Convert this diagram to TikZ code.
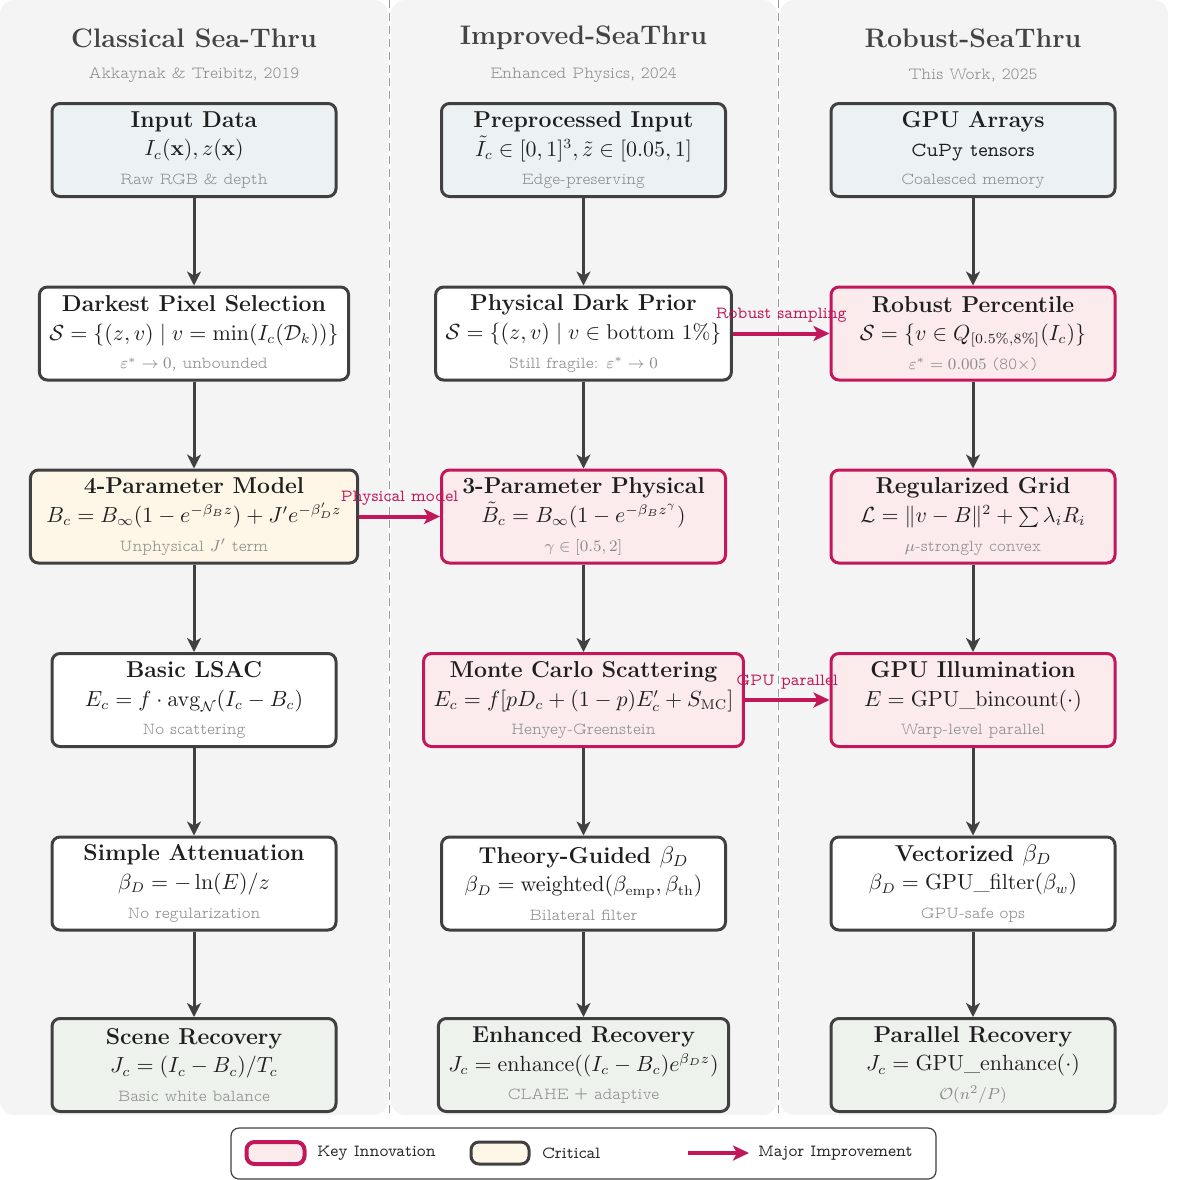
\documentclass[tikz,border=0pt]{standalone}
\usetikzlibrary{arrows.meta}

\definecolor{panelgray}{HTML}{F4F4F4}
\definecolor{edgegray}{HTML}{404040}
\definecolor{crimson}{HTML}{C2185B}
\definecolor{inputfill}{HTML}{ECF2F4}
\definecolor{keyfill}{HTML}{FBEBED}
\definecolor{critfill}{HTML}{FEF7E7}
\definecolor{recfill}{HTML}{EDF3EC}
\definecolor{notegray}{HTML}{8A8A8A}
\definecolor{headgray}{HTML}{444444}

\newcommand{\notefont}{\fontfamily{lmvtt}\fontseries{l}\fontsize{8.4}{10}\selectfont\color{notegray}}
\newcommand{\labelfont}{\fontfamily{lmvtt}\fontsize{8.5}{10}\selectfont}
\newcommand{\stitle}[1]{{\fontsize{11.5}{14}\selectfont\bfseries #1}}

\begin{document}
\begin{tikzpicture}[x=0.5pt,y=-0.5pt]
    % Define styles for boxes and arrows
    \tikzstyle{stage}=[rectangle,draw=edgegray,line width=1.5pt,rounded corners=4pt,fill=white,
        minimum width=142pt,minimum height=46.5pt,inner xsep=5pt,align=center,
        font=\fontsize{10.7}{14.3}\selectfont,text=black!88]
    \tikzstyle{inbox}=[stage,fill=inputfill]
    \tikzstyle{keybox}=[stage,draw=crimson,fill=keyfill]
    \tikzstyle{critbox}=[stage,fill=critfill]
    \tikzstyle{recbox}=[stage,fill=recfill]
    \tikzstyle{flow}=[draw=edgegray,line width=1.5pt,-{Stealth[length=7pt,width=7pt,inset=2pt]}]
    \tikzstyle{major}=[draw=crimson,line width=2pt,-{Stealth[length=8pt,width=7.5pt,inset=2pt]}]
    \tikzstyle{colhead}=[text=headgray,font=\fontsize{13.4}{15}\selectfont\bfseries]
    \tikzstyle{colsub}=[font=\notefont\fontsize{8.5}{10}\selectfont]
    \tikzstyle{legtext}=[right,font=\labelfont,text=black!85]

    \useasboundingbox (0,0) rectangle (1177,1180);

    % Column panels and dividers
    \foreach \xa/\xb in {0/388, 391/777, 780/1168}{
        \fill[panelgray,rounded corners=7pt] (\xa,0) rectangle (\xb,1115);
    }
    \foreach \x in {389.5, 778.5}{
        \draw[black!40,line width=0.6pt,dash pattern=on 4pt off 2.5pt] (\x,0) -- (\x,1115);
    }

    % Column headers
    \foreach \x/\name/\ti/\su in {194/hc/{Classical Sea-Thru}/{Akkaynak \& Treibitz, 2019},
            583.5/hi/{Improved-SeaThru}/{Enhanced Physics, 2024},
            973/hr/{Robust-SeaThru}/{This Work, 2025}}{
        \node[colhead] (\name) at (\x,38) {\ti};
        \node[colsub] (\name s) at (\x,75) {\su};
    }

    % Classical Sea-Thru
    \node[inbox] (c1) at (194,150) {\stitle{Input Data}\\ $I_c(\mathbf{x}), z(\mathbf{x})$\\ {\notefont Raw RGB \& depth}};
    \node[stage] (c2) at (194,333.5) {\stitle{Darkest Pixel Selection}\\ $\mathcal{S} = \{(z,v) \mid v = \min(I_c(\mathcal{D}_k))\}$\\ {\notefont $\varepsilon^* \to 0$, unbounded}};
    \node[critbox,inner xsep=8pt] (c3) at (194,516.5) {\stitle{4-Parameter Model}\\ $B_c = B_\infty(1 - e^{-\beta_B z}) + J' e^{-\beta'_D z}$\\ {\notefont Unphysical $J'$ term}};
    \node[stage] (c4) at (194,700) {\stitle{Basic LSAC}\\ $E_c = f \cdot \mathrm{avg}_{\mathcal{N}}(I_c - B_c)$\\ {\notefont No scattering}};
    \node[stage] (c5) at (194,883.5) {\stitle{Simple Attenuation}\\ $\beta_D = -\ln(E)/z$\\ {\notefont No regularization}};
    \node[recbox] (c6) at (194,1065) {\stitle{Scene Recovery}\\ $J_c = (I_c - B_c)/T_c$\\ {\notefont Basic white balance}};

    % Improved-SeaThru
    \node[inbox] (i1) at (583.5,150) {\stitle{Preprocessed Input}\\ $\tilde{I}_c \in [0,1]^3, \tilde{z} \in [0.05,1]$\\ {\notefont Edge-preserving}};
    \node[stage] (i2) at (583.5,333.5) {\stitle{Physical Dark Prior}\\ $\mathcal{S} = \{(z,v) \mid v \in \mbox{bottom 1\%}\}$\\ {\notefont Still fragile: $\varepsilon^* \to 0$}};
    \node[keybox] (i3) at (583.5,516.5) {\stitle{3-Parameter Physical}\\ $\tilde{B}_c = B_\infty(1 - e^{-\beta_B z^\gamma})$\\ {\notefont $\gamma \in [0.5, 2]$}};
    \node[keybox] (i4) at (583.5,700) {\stitle{Monte Carlo Scattering}\\ $E_c = f[pD_c + (1-p)E'_c + S_{\mathrm{MC}}]$\\ {\notefont Henyey-Greenstein}};
    \node[stage] (i5) at (583.5,883.5) {\stitle{Theory-Guided $\beta_D$}\\ $\beta_D = \mathrm{weighted}(\beta_{\mathrm{emp}}, \beta_{\mathrm{th}})$\\ {\notefont Bilateral filter}};
    \node[recbox] (i6) at (583.5,1065) {\stitle{Enhanced Recovery}\\ $J_c = \mathrm{enhance}((I_c - B_c)e^{\beta_D z})$\\ {\notefont CLAHE + adaptive}};

    % Robust-SeaThru
    \node[inbox] (r1) at (973,150) {\stitle{GPU Arrays}\\ {\labelfont\fontsize{10}{14}\selectfont CuPy tensors}\\ {\notefont Coalesced memory}};
    \node[keybox] (r2) at (973,333.5) {\stitle{Robust Percentile}\\ $\mathcal{S} = \{v \in Q_{[0.5\%,8\%]}(I_c)\}$\\ {\notefont $\varepsilon^* = 0.005$ (80$\times$)}};
    \node[keybox] (r3) at (973,516.5) {\stitle{Regularized Grid}\\ $\mathcal{L} = \|v - B\|^2 + \sum \lambda_i R_i$\\ {\notefont $\mu$-strongly convex}};
    \node[keybox] (r4) at (973,700) {\stitle{GPU Illumination}\\ $E = \mathrm{GPU\_bincount}(\cdot)$\\ {\notefont Warp-level parallel}};
    \node[stage] (r5) at (973,883.5) {\stitle{Vectorized $\beta_D$}\\ $\beta_D = \mathrm{GPU\_filter}(\beta_w)$\\ {\notefont GPU-safe ops}};
    \node[recbox] (r6) at (973,1065) {\stitle{Parallel Recovery}\\ $J_c = \mathrm{GPU\_enhance}(\cdot)$\\ {\notefont $\mathcal{O}(n^2/P)$}};

    % Flow inside each column
    \foreach \col in {c,i,r}{
        \foreach \a/\b in {1/2,2/3,3/4,4/5,5/6}{
            \draw[flow] (\col\a) -- (\col\b);
        }
    }

    % Major improvements across columns
    \draw[major] (i2) -- node[above=1pt,font=\labelfont,text=crimson] {Robust sampling} (r2);
    \draw[major] (c3) -- node[above=1pt,font=\labelfont,text=crimson] {Physical model} (i3);
    \draw[major] (i4) -- node[above=1pt,font=\labelfont,text=crimson] {GPU parallel} (r4);

    % Legend
    \node[draw=edgegray,line width=0.6pt,rounded corners=4pt,fill=white,
        minimum width=352.5pt,minimum height=25.5pt] (legend) at (583.5,1153.5) {};
    \node[draw=crimson,line width=2pt,fill=keyfill,rounded corners=4pt,inner sep=0pt,
        minimum width=29pt,minimum height=11pt] (lkey) at (275.5,1153) {};
    \node[legtext] (lkeyt) at (310,1153) {Key Innovation};
    \node[draw=edgegray,line width=1.5pt,fill=critfill,rounded corners=4pt,inner sep=0pt,
        minimum width=29pt,minimum height=11pt] (lcrit) at (500,1153) {};
    \node[legtext] (lcritt) at (535,1153) {Critical};
    \coordinate (la) at (688,1153);
    \coordinate (lb) at (749,1153);
    \draw[major] (la) -- (lb);
    \node[legtext] (lmajt) at (751,1153) {Major Improvement};
\end{tikzpicture}
\end{document}
